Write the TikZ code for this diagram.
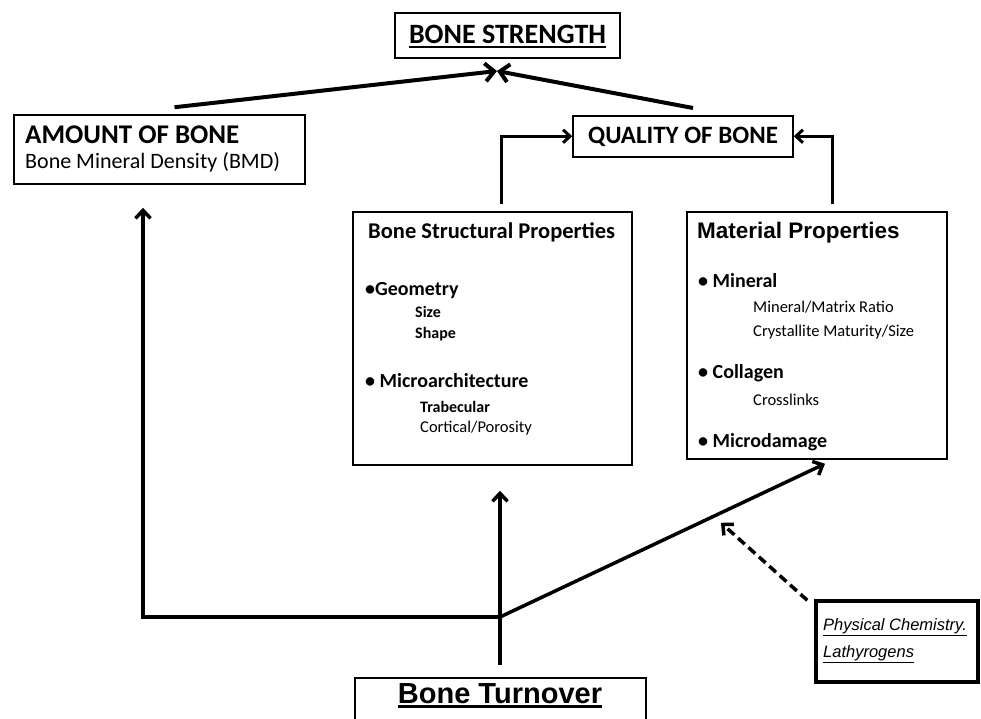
\documentclass[tikz,border=0pt]{standalone}
\usepackage{fontspec}
\setmainfont{Carlito}
\newfontfamily\arialFont{Liberation Sans}
\usetikzlibrary{arrows.meta,calc}

\newcommand{\thickUnder}[3]{\vtop{\hbox{#1}\kern#2\hrule height #3}}
\newcommand{\headFont}{\bfseries\fontsize{27}{32}\selectfont}
\newcommand{\subFont}{\fontsize{22}{26}\selectfont}
\newcommand{\sectionFont}{\bfseries\fontsize{22.5}{26}\selectfont}
\newcommand{\itemFont}{\bfseries\fontsize{20}{24}\selectfont}
\newcommand{\smallBoldFont}{\bfseries\fontsize{16}{19}\selectfont}
\newcommand{\smallFont}{\fontsize{16.5}{19}\selectfont}
\newcommand{\materialFont}{\arialFont\bfseries\fontsize{22.5}{26}\selectfont}
\newcommand{\physFont}{\arialFont\itshape\fontsize{16.5}{19}\selectfont}

\begin{document}
\begin{tikzpicture}
[x=1pt,y=-1pt,
    boxDecorate/.style={shape=rectangle,draw=black,line width=1.5pt,inner sep=0pt},%
    textDecorate/.style={inner sep=0pt,anchor=base west},%
    strongLineDecorate/.style={black,line width=4pt,-{Straight Barb[length=9pt,width=18pt]}},%
    elbowLineDecorate/.style={black,line width=3pt,-{Straight Barb[length=7pt,width=13pt]}},%
    hubLineDecorate/.style={black,line width=3.5pt,-{Straight Barb[length=8pt,width=15pt]}},%
    dashLineDecorate/.style={hubLineDecorate,dash pattern=on 9pt off 5pt}]
    \fill[white] (0,0) rectangle (981,718);
    \useasboundingbox (0,0) rectangle (981,718);
    %% boxes
    \node (strength) at (507.5,12) [boxDecorate,anchor=north,minimum width=225pt,text height=31pt,text depth=14pt] {\headFont\fontsize{28}{33}\selectfont\thickUnder{BONE STRENGTH}{2.5pt}{2pt}};
    \node (quality) at (683,115) [boxDecorate,anchor=north,minimum width=220pt,text height=28pt,text depth=13pt] {\headFont\fontsize{25}{30}\selectfont QUALITY OF BONE};
    \node (amount) at (159.5,149.5) [boxDecorate,minimum width=291pt,minimum height=69pt] {};
    \node (structural) at (492.5,338.5) [boxDecorate,minimum width=279pt,minimum height=253pt] {};
    \node (material) at (817,335.5) [boxDecorate,minimum width=260pt,minimum height=247pt] {};
    \node (physical) at (897,641.5) [boxDecorate,line width=3.5pt,minimum width=162pt,minimum height=81pt] {};
    \node (turnover) at (500,677) [boxDecorate,line width=2pt,anchor=north,minimum width=291pt,text height=25pt,text depth=45pt] {\arialFont\bfseries\fontsize{29}{34}\selectfont\thickUnder{Bone Turnover}{2pt}{3pt}};
    %% texts inside the boxes
    \foreach \nodename/\x/\y/\txt in {amountTitle/25/143/{\headFont AMOUNT OF BONE}, bmd/25/168/{\subFont Bone Mineral Density (BMD)},
        structTitle/368/238/{\sectionFont Bone Structural Properties}, geometry/365/295/{\itemFont •Geometry}, size/415/317/{\smallBoldFont Size}, shape/415/338/{\smallBoldFont Shape},
        microArch/365/387/{\itemFont • Microarchitecture}, trabecular/420/412/{\smallBoldFont Trabecular}, cortical/420/432/{\smallFont Cortical/Porosity},
        materialTitle/697/238/{\materialFont Material Properties}, mineral/698/287/{\itemFont • Mineral}, ratio/753/312/{\smallFont Mineral/Matrix Ratio},
        crystal/753/336/{\smallFont Crystallite Maturity/Size}, collagen/698/378/{\itemFont • Collagen}, crosslinks/753/405/{\smallFont Crosslinks},
        microdamage/698/447/{\itemFont • Microdamage},
        physChem/823/630/{\physFont\underline{Physical Chemistry.}}, lathyro/823/657/{\physFont\underline{Lathyrogens}}}
    {
        \node (\nodename) at (\x,\y) [textDecorate] {\txt};
    }
    %% meeting points
    \coordinate (hub) at (500,617);
    \coordinate (strengthTip) at (497,71);
    \coordinate (materialTip) at ($(material.south)+(8,4)$);
    %% arrows to bone strength and quality
    \path\foreach \startnode/\dx in {amount/15, quality/10}
    {
        ([xshift=\dx pt,yshift=7pt]\startnode.north) edge[strongLineDecorate] (strengthTip)
    };
    \draw[elbowLineDecorate] ([xshift=9pt,yshift=7pt]structural.north) |- (quality.west);
    \draw[elbowLineDecorate] ([xshift=15pt,yshift=7pt]material.north) |- (quality.east);
    %% lines out of bone turnover
    \draw[hubLineDecorate] ($(turnover.north)+(0,-12)$) -- ($(turnover.north |- structural.south)+(0,25)$);
    \draw[hubLineDecorate] (hub) -| ($(amount.south)+(-16.5,23)$);
    \draw[hubLineDecorate] (hub) -- (materialTip);
    \draw[dashLineDecorate] ($(physical.north west)+(-7,1)$) -- ($(hub)!0.68!(materialTip)+(0,10)$);
\end{tikzpicture}
\end{document}
